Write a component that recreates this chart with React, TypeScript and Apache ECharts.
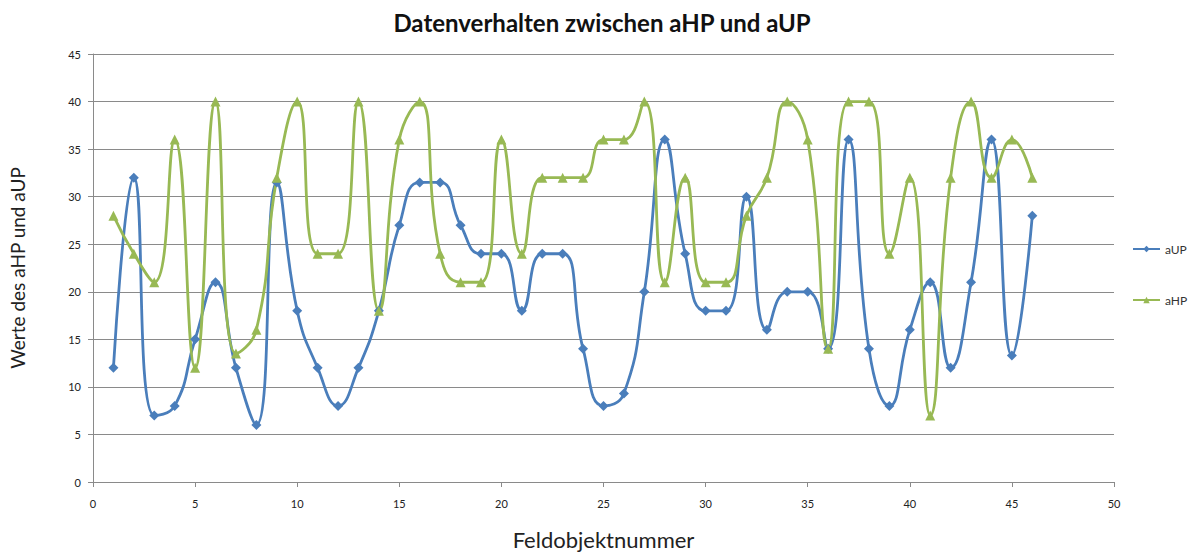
import React, { useEffect, useRef } from "react";
import * as echarts from "echarts";

const xValues = [1,2,3,4,5,6,7,8,9,10,11,12,13,14,15,16,17,18,19,20,21,22,23,24,25,26,27,28,29,30,31,32,33,34,35,36,37,38,39,40,41,42,43,44,45,46];
const aUP = [12,32,7,8,15,21,12,6,31.5,18,12,8,12,18,27,31.5,31.5,27,24,24,18,24,24,14,8,9.3,20,36,24,18,18,30,16,20,20,14,36,14,8,16,21,12,21,36,13.3,28];
const aHP = [28,24,21,36,12,40,13.5,16,32,40,24,24,40,18,36,40,24,21,21,36,24,32,32,32,36,36,40,21,32,21,21,28,32,40,36,14,40,40,24,32,7,32,40,32,36,32];

const titleText = "Datenverhalten zwischen aHP und aUP";
const xName = "Feldobjektnummer";
const yName = "Werte des aHP und aUP";

export default function App() {
  const ref = useRef<HTMLDivElement>(null);
  useEffect(() => {
    if (!ref.current) return;
    const chart = echarts.init(ref.current, null, { renderer: "svg" });
    const font = "Lato, 'Open Sans', sans-serif";
    chart.setOption({
      animation: false,
      backgroundColor: "#ffffff",
      title: {
        text: titleText,
        left: 597,
        textAlign: "center",
        top: 5,
        textStyle: { fontFamily: font, fontSize: 24, fontWeight: "bold", color: "#111" },
      },
      legend: {
        orient: "vertical",
        left: 1127,
        top: 238,
        itemGap: 39,
        itemWidth: 27,
        itemHeight: 8,
        textStyle: { fontFamily: font, fontSize: 12, color: "#333" },
        data: ["aUP", "aHP"],
      },
      grid: { left: 93, right: 77, top: 54, bottom: 63, containLabel: false },
      xAxis: {
        type: "value",
        min: 0,
        max: 50,
        interval: 5,
        name: xName,
        nameLocation: "middle",
        nameGap: 46,
        nameTextStyle: { fontFamily: font, fontSize: 22, color: "#222" },
        axisLine: { show: true, lineStyle: { color: "#8a8a8a" } },
        axisTick: { show: true, length: 5, lineStyle: { color: "#8a8a8a" } },
        axisLabel: { fontFamily: font, fontSize: 11, color: "#222", margin: 16 },
        splitLine: { show: false },
      },
      yAxis: {
        type: "value",
        min: 0,
        max: 45,
        interval: 5,
        name: yName,
        nameLocation: "middle",
        nameGap: 66,
        nameRotate: 90,
        nameTextStyle: { fontFamily: font, fontSize: 19, color: "#222" },
        axisLine: { show: true, lineStyle: { color: "#8a8a8a" } },
        axisTick: { show: true, length: 5, lineStyle: { color: "#8a8a8a" } },
        axisLabel: { fontFamily: font, fontSize: 11, color: "#222", margin: 12 },
        splitLine: { show: true, lineStyle: { color: "#8a8a8a", width: 1 } },
      },
      series: [
        {
          name: "aUP",
          type: "line",
          smooth: 0.5,
          data: xValues.map((x, i) => [x, aUP[i]]),
          symbol: "diamond",
          symbolSize: 10,
          lineStyle: { color: "#4A7EBB", width: 2.8 },
          itemStyle: { color: "#4A7EBB" },
        },
        {
          name: "aHP",
          type: "line",
          smooth: 0.5,
          data: xValues.map((x, i) => [x, aHP[i]]),
          symbol: "triangle",
          symbolSize: 10,
          lineStyle: { color: "#98B954", width: 2.8 },
          itemStyle: { color: "#98B954" },
        },
      ],
    });
    return () => chart.dispose();
  }, []);
  return <div ref={ref} style={{ width: 1191, height: 555, position: "absolute", left: 0, top: 0 }} />;
}
